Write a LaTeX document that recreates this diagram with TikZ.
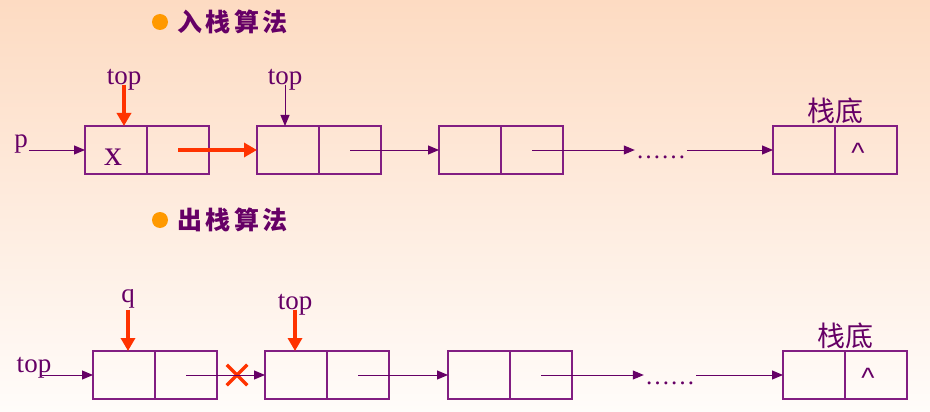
\documentclass[tikz,border=0pt]{standalone}
\usepackage{fontspec}
\setmainfont{Liberation Serif}
\setsansfont{Liberation Sans}
\newfontfamily\cjk{Noto Sans CJK SC}
\newfontfamily\cjktitle[LetterSpace=14]{Noto Sans CJK SC}
\usepackage{xcolor}
\usepackage{tikz}
\usetikzlibrary{arrows.meta, positioning, shapes.misc}

\definecolor{stackpurple}{RGB}{102,0,102}
\definecolor{boxpurple}{RGB}{130,30,130}
\definecolor{ptrred}{RGB}{255,51,0}
\definecolor{bulletorange}{RGB}{255,153,0}
\definecolor{bgtop}{RGB}{253,219,194}
\definecolor{bgbottom}{RGB}{255,252,250}

\newcommand{\nullptr}{\sffamily\fontsize{28}{28}\selectfont\raisebox{-12pt}[0pt][0pt]{\textasciicircum}\kern16pt}

\begin{document}
\begin{tikzpicture}[
    x=1pt, y=-1pt,
    cell/.style={rectangle, draw=boxpurple, line width=1.2pt, minimum width=62pt, minimum height=48pt, inner sep=0pt, outer sep=0pt, text=stackpurple},
    lbl/.style={text=stackpurple, font=\fontsize{27}{27}\selectfont, inner sep=1pt},
    bottomlbl/.style={text=stackpurple, font=\cjk\fontsize{28}{28}\selectfont, inner sep=0pt},
    title/.style={text=stackpurple, font=\cjktitle\bfseries\fontsize{25}{25}\selectfont, inner sep=0pt},
    bul/.style={circle, fill=bulletorange, minimum size=16pt, inner sep=0pt},
    dots/.style={text=stackpurple, font=\fontsize{25}{25}\selectfont, inner sep=1pt, anchor=base},
    link/.style={-{Triangle[length=11pt, width=9pt]}, line width=1pt, draw=stackpurple},
    ptr/.style={-{Triangle[length=13pt, width=14pt]}, line width=4pt, draw=ptrred},
]

% Background
\shade[top color=bgtop, bottom color=bgbottom] (0,0) rectangle (930,412);
\useasboundingbox (0,0) rectangle (930,412);

% Push
\node[bul] (bul1) at (160,22) {};
\node[title, right=9pt of bul1] (push) {入栈算法};

\node[cell] (a1a) at (116,150) {\fontsize{36}{36}\selectfont\raisebox{-15pt}[0pt][0pt]{x}\kern6pt};
\node[cell, right=0pt of a1a] (a1b) {};
\node[cell] (a2a) at (288,150) {};
\node[cell, right=0pt of a2a] (a2b) {};
\node[cell] (a3a) at (470,150) {};
\node[cell, right=0pt of a3a] (a3b) {};
\node[cell] (a4a) at (804,150) {};
\node[cell, right=0pt of a4a] (a4b) {\nullptr};

\node[lbl] (p) at (21,144) {p};
\node[lbl] (t1) at (124,80) {top};
\node[lbl] (t2) at (285,80) {top};
\node[dots] (d1) at (661,158) {……};
\node[bottomlbl, above=2pt of a4a.north east] (bot1) {栈底};

\draw[link] (p.east |- a1a.west) -- (a1a.west);
\draw[ptr] (t1.base) -- (t1.base |- a1a.north);
\draw[link] (t2.base) -- (t2.base |- a2a.north);
\draw[ptr] (a1b.center) -- (a2a.west);
\draw[link] (a2b.center) -- (a3a.west);
\draw[link] (a3b.center) -- (d1.west |- a3b.center);
\draw[link] (d1.east |- a4a.west) -- (a4a.west);

% Pop
\node[bul] (bul2) at (160,220) {};
\node[title, right=9pt of bul2] (pop) {出栈算法};

\node[cell] (b1a) at (124,375) {};
\node[cell, right=0pt of b1a] (b1b) {};
\node[cell] (b2a) at (296,375) {};
\node[cell, right=0pt of b2a] (b2b) {};
\node[cell] (b3a) at (479,375) {};
\node[cell, right=0pt of b3a] (b3b) {};
\node[cell] (b4a) at (814,375) {};
\node[cell, right=0pt of b4a] (b4b) {\nullptr};

\node[lbl] (tp) at (34,368) {top};
\node[lbl] (q) at (128,299) {q};
\node[lbl] (t3) at (295,305) {top};
\node[dots] (d2) at (670,384) {……};
\node[bottomlbl, above=2pt of b4a.north east] (bot2) {栈底};
\node[cross out, draw=ptrred, line width=3.5pt, minimum size=17pt, inner sep=0pt] (cut) at (237,375) {};

\draw[link] ([xshift=-10pt]tp.east |- b1a.west) -- (b1a.west);
\draw[ptr] (q.south) -- (q.south |- b1a.north);
\draw[ptr] (t3.base) -- (t3.base |- b2a.north);
\draw[link] (b1b.center) -- (b2a.west);
\draw[link] (b2b.center) -- (b3a.west);
\draw[link] (b3b.center) -- (d2.west |- b3b.center);
\draw[link] (d2.east |- b4a.west) -- (b4a.west);

\end{tikzpicture}
\end{document}
